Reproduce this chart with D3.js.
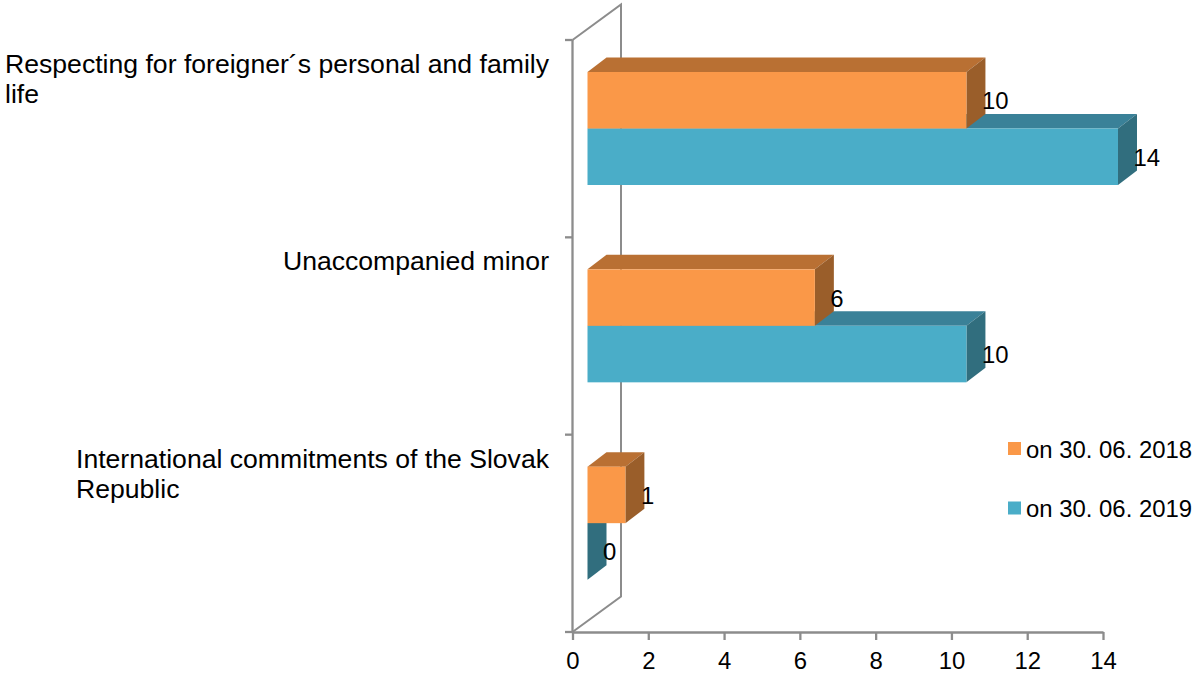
<!DOCTYPE html>
<html>
<head>
<meta charset="utf-8">
<script src="https://d3js.org/d3.v7.min.js"></script>
<style>
  html, body { margin: 0; padding: 0; background: #fff; }
  text { font-family: "Liberation Sans", Arial, sans-serif; fill: #000; }
</style>
</head>
<body>
<script>
// values, bottom category is last
var categories = ["resp", "minor", "intl"];
var categoryLines = [
  ["Respecting for foreigner´s personal and family", "life"],
  ["Unaccompanied minor"],
  ["International commitments of the Slovak", "Republic"]
];
var series2018 = [10, 6, 1];
var series2019 = [14, 10, 0];
var seriesNames = ["on 30. 06. 2018", "on 30. 06. 2019"];
var xTicks = [0, 2, 4, 6, 8, 10, 12, 14];

var width = 1195,
    height = 675;

var axisColor = "#8c8c8c";
var axisWidth = 2.3;
var depthX = 19, depthY = -14.5;   // bar depth
var wallX = 48.5, wallY = -35.5;   // back wall depth
var barInset = 15;

var colors = [
  { front: "#fa9848", top: "#b97033", side: "#9a5e2a" },
  { front: "#4aadc8", top: "#3a8198", side: "#316e7e" }
];

var svg = d3.select("body").append("svg")
    .attr("width", width)
    .attr("height", height)
    .style("display", "block");

var x = d3.scaleLinear().domain([0, 14]).range([572.5, 1103]);
var y = d3.scaleBand().domain(categories).range([40, 632]);
var inner = d3.scaleBand().domain([0, 1]).range([32, 32 + 113]);

function pts(list) {
  return list.map(function(p) { return p[0] + "," + p[1]; }).join(" ");
}

// back wall outline
var x0 = x(0), yTop = y.range()[0], yBot = y.range()[1];
svg.append("polyline")
    .attr("points", pts([[x0, yBot], [x0 + wallX, yBot + wallY], [x0 + wallX, yTop + wallY], [x0, yTop]]))
    .attr("fill", "none")
    .attr("stroke", axisColor)
    .attr("stroke-width", 2);

// axes
var xAxis = d3.axisBottom(x).tickValues(xTicks).tickSize(8).tickPadding(12).tickSizeOuter(0);
var xG = svg.append("g").attr("transform", "translate(0," + yBot + ")").call(xAxis);
xG.selectAll("text").attr("font-size", 23.9).style("font-family", "Liberation Sans");

var yTicks = y.domain().map(function(d) { return y(d); }).concat([yBot]);
var yG = svg.append("g").attr("transform", "translate(" + x0 + ",0)");
yG.append("line").attr("y1", yTop).attr("y2", yBot);
yG.selectAll(".tk").data(yTicks).enter().append("line")
    .attr("class", "tk")
    .attr("x1", -7.5).attr("x2", 0)
    .attr("y1", function(d) { return d; })
    .attr("y2", function(d) { return d; });

svg.selectAll("g line").attr("stroke", axisColor).attr("stroke-width", axisWidth);
xG.select(".domain").attr("stroke", axisColor).attr("stroke-width", axisWidth);

// bars, 2019 goes first so that 2018 sits on it
var rows = [];
categories.forEach(function(c, i) {
  rows.push({ cat: c, s: 1, v: series2019[i] });
  rows.push({ cat: c, s: 0, v: series2018[i] });
});

var bar = svg.append("g").selectAll("g")
    .data(rows)
    .enter().append("g");

function corners(d) {
  var l = x0 + barInset,
      r = l + (x(d.v) - x0),
      t = y(d.cat) + inner(d.s),
      b = t + inner.bandwidth();
  return { l: l, r: r, t: t, b: b };
}

bar.append("polygon")
    .attr("fill", function(d) { return colors[d.s].top; })
    .attr("points", function(d) {
      var c = corners(d);
      return pts([[c.l, c.t], [c.r, c.t], [c.r + depthX, c.t + depthY], [c.l + depthX, c.t + depthY]]);
    });

bar.append("polygon")
    .attr("fill", function(d) { return colors[d.s].side; })
    .attr("points", function(d) {
      var c = corners(d);
      return pts([[c.r, c.t], [c.r + depthX, c.t + depthY], [c.r + depthX, c.b + depthY], [c.r, c.b]]);
    });

bar.append("rect")
    .attr("fill", function(d) { return colors[d.s].front; })
    .attr("x", function(d) { return corners(d).l; })
    .attr("y", function(d) { return corners(d).t; })
    .attr("width", function(d) { var c = corners(d); return c.r - c.l; })
    .attr("height", inner.bandwidth());

// value labels on top of all bars
svg.append("g").selectAll("text")
    .data(rows)
    .enter().append("text")
    .attr("x", function(d) { return corners(d).r + 15.5; })
    .attr("y", function(d) { return (corners(d).t + corners(d).b) / 2 + 9; })
    .attr("font-size", 23.9)
    .text(function(d) { return d.v; });

// category labels, right aligned block with left aligned lines
var catLabel = svg.append("g").selectAll("text")
    .data(categories)
    .enter().append("text")
    .attr("font-size", 26.6);

catLabel.each(function(d, i) {
  var t = d3.select(this);
  var lines = categoryLines[i];
  lines.forEach(function(line, j) {
    t.append("tspan")
      .attr("y", y(d) + 33 + j * 30)
      .text(line);
  });
  var w = d3.max(t.selectAll("tspan").nodes(), function(n) { return n.getComputedTextLength(); });
  t.selectAll("tspan").attr("x", 549 - w);
});

// legend
var legend = svg.append("g").selectAll("g")
    .data(seriesNames)
    .enter().append("g")
    .attr("transform", function(d, i) { return "translate(1008," + (442 + i * 59.5) + ")"; });

legend.append("rect")
    .attr("width", 13).attr("height", 13)
    .attr("fill", function(d, i) { return colors[i].front; });

legend.append("text")
    .attr("x", 18)
    .attr("y", 15.5)
    .attr("font-size", 23.9)
    .text(function(d) { return d; });
</script>
</body>
</html>
